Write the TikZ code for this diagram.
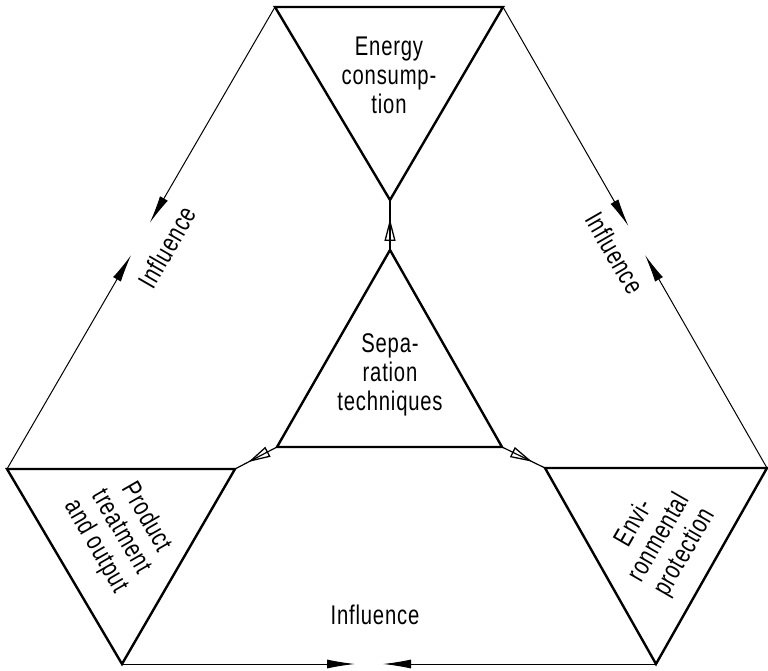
\documentclass[tikz,border=0pt]{standalone}
\usepackage{fontspec}
\setmainfont[FakeStretch=0.75,LetterSpace=3]{Liberation Sans}
\usetikzlibrary{arrows.meta,calc,decorations.markings}
\tikzset{
  tri/.style={line width=2.4pt, line join=miter},
  outer/.style={line width=1pt, -{Latex[length=28pt,width=9pt]}},
  lbl/.style={font=\fontsize{27}{29}\selectfont, align=center, inner sep=0pt},
  conn/.style={line width=1.2pt, postaction={decorate},
    decoration={markings, mark=at position #1 with {\arrow[line width=1.3pt]{Triangle[open,length=22pt,width=11pt]}}}}
}
\begin{document}
\begin{tikzpicture}[x=1pt,y=1pt]
\useasboundingbox (0,0) rectangle (768,670);
% vertices
\coordinate (T1) at (275,663);
\coordinate (T2) at (503,663);
\coordinate (T3) at (390,470);
\coordinate (C1) at (390,420);
\coordinate (C2) at (277,223);
\coordinate (C3) at (502,223);
\coordinate (P1) at (7,201);
\coordinate (P2) at (235,201);
\coordinate (P3) at (122,6);
\coordinate (E1) at (545,202);
\coordinate (E2) at (767,202);
\coordinate (E3) at (656,6);
% triangles
\draw[tri] (T1) -- (T2) -- (T3) -- cycle;
\draw[tri] (C1) -- (C2) -- (C3) -- cycle;
\draw[tri] (P1) -- (P2) -- (P3) -- cycle;
\draw[tri] (E1) -- (E2) -- (E3) -- cycle;
% inner connectors
\draw[conn=0.62] (C1) -- (T3);
\draw[conn=0.68] (C2) -- (P2);
\draw[conn=0.7] (C3) -- (E1);
% outer influence arrows
\coordinate (L1) at ($(T1)!0.467!(P1)$);
\coordinate (L2) at ($(T1)!0.537!(P1)$);
\coordinate (R1) at ($(T2)!0.475!(E2)$);
\coordinate (R2) at ($(T2)!0.538!(E2)$);
\coordinate (B1) at (355,6);
\coordinate (B2) at (383,6);
\draw[outer] (T1) -- (L1);
\draw[outer] (P1) -- (L2);
\draw[outer] (T2) -- (R1);
\draw[outer] (E2) -- (R2);
\draw[outer] (P3) -- (B1);
\draw[outer] (E3) -- (B2);
% labels
\node[lbl] (energy) at (389,595) {Energy\\consump-\\tion};
\node[lbl] (sep) at (390,295) {Sepa-\\ration\\techniques};
\node[lbl, rotate=-60] (prod) at (121,138) {Product\\treatment\\and output};
\node[lbl, rotate=60] (env) at (660,132) {Envi-\\ronmental\\protection};
\node[lbl, rotate=60] (infl) at (167,423) {Influence};
\node[lbl, rotate=-60] (infr) at (615,417) {Influence};
\node[lbl] (infb) at (375,55) {Influence};
\end{tikzpicture}
\end{document}
